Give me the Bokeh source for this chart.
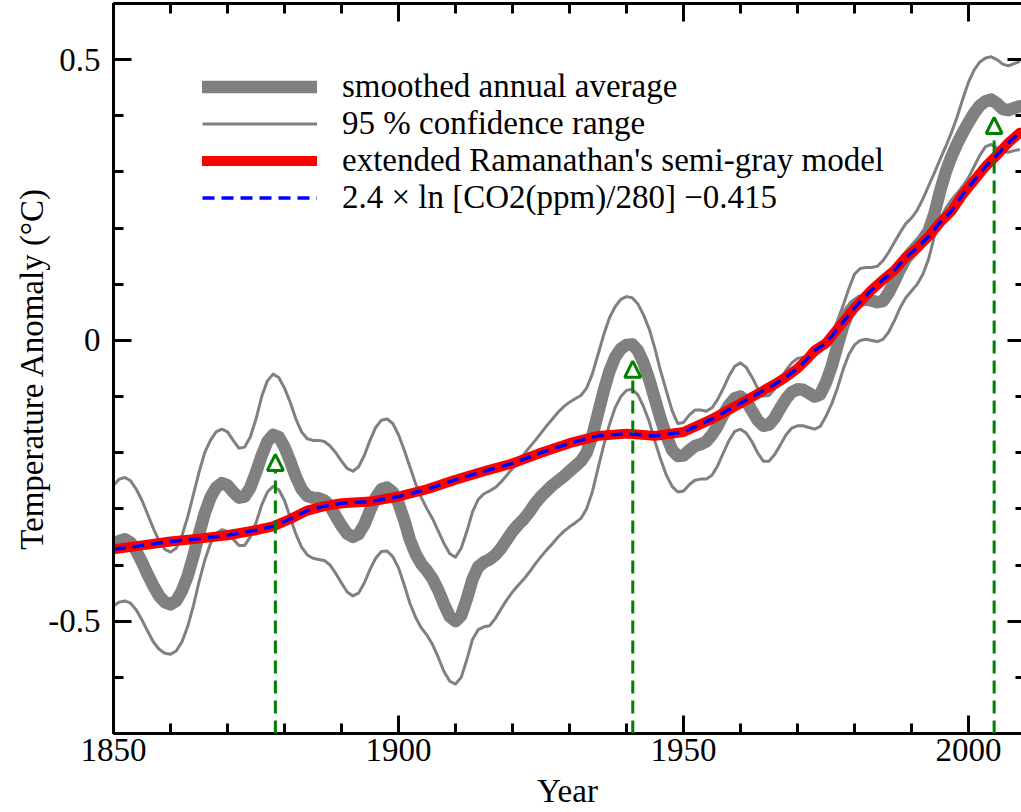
from bokeh.plotting import figure
from bokeh.models import (LinearAxis, FixedTicker, Legend, LegendItem, Arrow,
                          NormalHead, ColumnDataSource, Range1d)
from bokeh.embed import file_html
from bokeh.resources import INLINE

# ---------------- data ----------------
years = list(range(1850, 2010))

smoothed = [
    -0.368, -0.357, -0.354, -0.360, -0.375, -0.395, -0.417, -0.437, -0.455, -0.466,
    -0.470, -0.464, -0.446, -0.420, -0.385, -0.345, -0.308, -0.280, -0.262, -0.254,
    -0.258, -0.270, -0.280, -0.278, -0.262, -0.235, -0.205, -0.180, -0.168, -0.172,
    -0.190, -0.215, -0.243, -0.265, -0.277, -0.280, -0.281, -0.285, -0.295, -0.313,
    -0.330, -0.344, -0.350, -0.345, -0.328, -0.303, -0.280, -0.265, -0.262, -0.270,
    -0.290, -0.320, -0.355, -0.380, -0.398, -0.410, -0.425, -0.445, -0.470, -0.492,
    -0.500, -0.490, -0.460, -0.425, -0.403, -0.395, -0.390, -0.382, -0.370, -0.355,
    -0.340, -0.328, -0.318, -0.305, -0.290, -0.278, -0.268, -0.258, -0.250, -0.242,
    -0.233, -0.224, -0.215, -0.200, -0.170, -0.130, -0.090, -0.055, -0.030, -0.015,
    -0.008, -0.007, -0.018, -0.040, -0.070, -0.105, -0.140, -0.170, -0.195, -0.206,
    -0.205, -0.196, -0.188, -0.185, -0.180, -0.168, -0.152, -0.132, -0.115, -0.103,
    -0.100, -0.108, -0.125, -0.142, -0.152, -0.150, -0.138, -0.120, -0.104, -0.092,
    -0.087, -0.088, -0.094, -0.100, -0.096, -0.075, -0.046, -0.010, 0.025, 0.050,
    0.063, 0.070, 0.073, 0.071, 0.068, 0.070, 0.085, 0.105, 0.127, 0.145,
    0.157, 0.168, 0.180, 0.195, 0.225, 0.265, 0.300, 0.327, 0.350, 0.370,
    0.388, 0.405, 0.418, 0.426, 0.429, 0.422, 0.412, 0.410, 0.414, 0.417]

ci_upper = [
    -0.258, -0.247, -0.244, -0.250, -0.265, -0.285, -0.310, -0.335, -0.357, -0.372,
    -0.377, -0.370, -0.348, -0.315, -0.275, -0.235, -0.200, -0.178, -0.163, -0.158,
    -0.163, -0.178, -0.192, -0.190, -0.172, -0.140, -0.100, -0.072, -0.060, -0.066,
    -0.085, -0.110, -0.140, -0.163, -0.175, -0.178, -0.178, -0.180, -0.188, -0.200,
    -0.215, -0.228, -0.233, -0.225, -0.205, -0.178, -0.155, -0.142, -0.140, -0.148,
    -0.168, -0.195, -0.225, -0.255, -0.280, -0.300, -0.318, -0.340, -0.362, -0.380,
    -0.386, -0.370, -0.340, -0.305, -0.283, -0.273, -0.268, -0.262, -0.252, -0.240,
    -0.228, -0.215, -0.203, -0.190, -0.178, -0.165, -0.152, -0.140, -0.128, -0.118,
    -0.110, -0.104, -0.098, -0.085, -0.060, -0.025, 0.010, 0.040, 0.060, 0.073,
    0.078, 0.076, 0.065, 0.045, 0.020, -0.015, -0.055, -0.090, -0.125, -0.148,
    -0.146, -0.133, -0.124, -0.124, -0.126, -0.120, -0.105, -0.085, -0.063, -0.046,
    -0.040, -0.048, -0.065, -0.085, -0.099, -0.098, -0.087, -0.070, -0.053, -0.040,
    -0.032, -0.030, -0.030, -0.028, -0.020, -0.010, 0.010, 0.035, 0.062, 0.092,
    0.118, 0.128, 0.130, 0.130, 0.132, 0.142, 0.157, 0.175, 0.192, 0.208,
    0.218, 0.232, 0.252, 0.275, 0.298, 0.322, 0.345, 0.370, 0.398, 0.430,
    0.460, 0.482, 0.496, 0.503, 0.505, 0.500, 0.492, 0.489, 0.493, 0.497]

ci_lower = [
    -0.473, -0.466, -0.464, -0.468, -0.480, -0.498, -0.518, -0.537, -0.550, -0.557,
    -0.559, -0.553, -0.537, -0.510, -0.473, -0.430, -0.392, -0.362, -0.344, -0.337,
    -0.340, -0.354, -0.365, -0.365, -0.350, -0.325, -0.293, -0.270, -0.260, -0.266,
    -0.285, -0.315, -0.345, -0.368, -0.382, -0.388, -0.390, -0.392, -0.400, -0.415,
    -0.432, -0.448, -0.455, -0.450, -0.432, -0.408, -0.388, -0.376, -0.375, -0.385,
    -0.405, -0.435, -0.468, -0.493, -0.512, -0.525, -0.542, -0.565, -0.590, -0.607,
    -0.612, -0.600, -0.568, -0.532, -0.515, -0.510, -0.508, -0.495, -0.478, -0.462,
    -0.448, -0.436, -0.425, -0.412, -0.398, -0.385, -0.373, -0.362, -0.350, -0.340,
    -0.332, -0.325, -0.317, -0.300, -0.270, -0.228, -0.187, -0.150, -0.120, -0.100,
    -0.089, -0.087, -0.097, -0.118, -0.145, -0.180, -0.212, -0.240, -0.260, -0.270,
    -0.268, -0.257, -0.249, -0.247, -0.247, -0.240, -0.223, -0.200, -0.178, -0.162,
    -0.158, -0.165, -0.180, -0.200, -0.215, -0.215, -0.203, -0.186, -0.168, -0.156,
    -0.152, -0.152, -0.155, -0.158, -0.153, -0.135, -0.113, -0.085, -0.052, -0.025,
    -0.008, 0.000, 0.002, 0.000, -0.002, 0.002, 0.015, 0.035, 0.058, 0.076,
    0.088, 0.100, 0.118, 0.145, 0.185, 0.215, 0.235, 0.250, 0.262, 0.275,
    0.290, 0.310, 0.330, 0.345, 0.349, 0.343, 0.336, 0.335, 0.338, 0.340]

model_years = [1850, 1855, 1860, 1865, 1870, 1875, 1878, 1881, 1884, 1887, 1890, 1895,
               1900, 1905, 1910, 1915, 1920, 1925, 1930, 1935, 1940, 1945, 1950, 1955,
               1960, 1963, 1966, 1968, 1970, 1972, 1973, 1975, 1977, 1980, 1983, 1985,
               1987, 1989, 1991, 1993, 1995, 1997, 1999, 2001, 2003, 2005, 2007, 2009]

model_semi_gray = [-0.372, -0.365, -0.358, -0.353, -0.347, -0.338, -0.331, -0.318, -0.303, -0.295, -0.290, -0.287,
                   -0.278, -0.265, -0.248, -0.233, -0.219, -0.200, -0.183, -0.170, -0.166, -0.170, -0.163, -0.140,
                   -0.112, -0.095, -0.078, -0.065, -0.050, -0.030, -0.018, -0.005, 0.020, 0.058, 0.090, 0.108,
                   0.125, 0.148, 0.165, 0.185, 0.210, 0.230, 0.260, 0.285, 0.310, 0.330, 0.352, 0.370]

co2_fit = [-0.372, -0.365, -0.358, -0.353, -0.347, -0.338, -0.331, -0.318, -0.303, -0.295, -0.290, -0.287,
           -0.278, -0.265, -0.248, -0.233, -0.219, -0.200, -0.183, -0.170, -0.166, -0.170, -0.163, -0.140,
           -0.112, -0.095, -0.078, -0.065, -0.050, -0.030, -0.018, -0.005, 0.020, 0.058, 0.090, 0.108,
           0.125, 0.148, 0.165, 0.185, 0.210, 0.230, 0.260, 0.285, 0.310, 0.330, 0.352, 0.370]

arrow_years = [1878.4, 1941.1, 2004.5]
arrow_tips = [-0.203, -0.037, 0.397]

x_major = [1850, 1900, 1950, 2000]
x_minor = [1850, 1860, 1870, 1880, 1890, 1900, 1910, 1920, 1930, 1940, 1950,
           1960, 1970, 1980, 1990, 2000, 2010]
y_major = [-0.5, 0, 0.5]
y_major_labels = ["-0.5", "0", "0.5"]
y_minor = [-0.7, -0.6, -0.5, -0.4, -0.3, -0.2, -0.1, 0, 0.1, 0.2, 0.3, 0.4, 0.5, 0.6]

labels = ["smoothed annual average",
          "95 % confidence range",
          "extended Ramanathan's semi-gray model",
          "2.4 \u00d7 ln [CO2(ppm)/280] \u22120.415"]

FONT = "Liberation Serif"
FS = "33px"
XMIN, XMAX = 1850, 2009.3
YMIN, YMAX = -0.70, 0.60

p = figure(width=1021, height=812, output_backend="svg", toolbar_location=None,
           x_range=Range1d(XMIN, XMAX), y_range=Range1d(YMIN, YMAX),
           x_axis_type=None, y_axis_type=None,
           min_border_left=113, min_border_right=0, min_border_top=3, min_border_bottom=79)
p.outline_line_color = None
p.background_fill_color = "white"


def style_axis(ax):
    ax.axis_line_width = 3
    ax.axis_line_color = "black"
    ax.major_tick_line_width = 3
    ax.minor_tick_line_width = 3
    ax.major_tick_in = 18
    ax.major_tick_out = 0
    ax.minor_tick_in = 10
    ax.minor_tick_out = 0
    ax.major_label_text_font = FONT
    ax.major_label_text_font_size = FS
    ax.major_label_text_color = "black"
    ax.axis_label_text_font = FONT
    ax.axis_label_text_font_size = FS
    ax.axis_label_text_font_style = "normal"
    ax.axis_label_text_color = "black"


xt = FixedTicker(ticks=x_major, minor_ticks=x_minor)
yt = FixedTicker(ticks=y_major, minor_ticks=y_minor)

bottom = LinearAxis(ticker=xt, axis_label="Year")
style_axis(bottom)
bottom.major_label_standoff = 5
bottom.axis_label_standoff = 9
bottom.major_label_overrides = {v: str(v) for v in x_major}
p.add_layout(bottom, "below")

left = LinearAxis(ticker=yt, axis_label="Temperature Anomaly (\u00b0C)")
style_axis(left)
left.major_label_standoff = 13
left.axis_label_standoff = -5
left.major_label_overrides = {v: s for v, s in zip(y_major, y_major_labels)}
p.add_layout(left, "left")

top = LinearAxis(ticker=xt)
style_axis(top)
top.major_label_overrides = {v: "" for v in x_major}
top.major_label_standoff = 0
p.add_layout(top, "above")

right = LinearAxis(ticker=yt)
style_axis(right)
right.axis_line_alpha = 0
right.major_tick_in = 14
right.minor_tick_in = 6
right.major_label_overrides = {v: "" for v in y_major}
right.major_label_standoff = 0
p.add_layout(right, "right")

GRAY = "#808080"
r_s = p.line(years, smoothed, line_color=GRAY, line_width=12.5,
             line_cap="round", line_join="round")
r_u = p.line(years, ci_upper, line_color=GRAY, line_width=3, line_join="round")
r_l = p.line(years, ci_lower, line_color=GRAY, line_width=3, line_join="round")
r_m = p.line(model_years, model_semi_gray, line_color="#ff0000", line_width=10,
             line_cap="round", line_join="round")
r_c = p.line(model_years, co2_fit, line_color="#0000ff", line_width=3.5,
             line_dash="12 7")

src = ColumnDataSource(dict(x=arrow_years, y0=[YMIN] * len(arrow_years), y1=arrow_tips))
p.add_layout(Arrow(source=src, x_start="x", y_start="y0", x_end="x", y_end="y1",
                   line_color="#008000", line_width=3, line_dash="13 7",
                   end=NormalHead(size=16, fill_color="white", line_color="#008000",
                                  line_width=3)))

legend = Legend(items=[LegendItem(label=labels[0], renderers=[r_s]),
                       LegendItem(label=labels[1], renderers=[r_u]),
                       LegendItem(label=labels[2], renderers=[r_m]),
                       LegendItem(label=labels[3], renderers=[r_c])],
                location=(89, 517))
legend.label_text_font = FONT
legend.label_text_font_size = FS
legend.label_text_color = "black"
legend.glyph_width = 115
legend.glyph_height = 37
legend.label_height = 37
legend.label_standoff = 25
legend.spacing = 0
legend.padding = 0
legend.margin = 0
legend.border_line_color = None
legend.background_fill_alpha = 0
p.add_layout(legend)

open("out.html", "w").write(file_html(p, INLINE))
